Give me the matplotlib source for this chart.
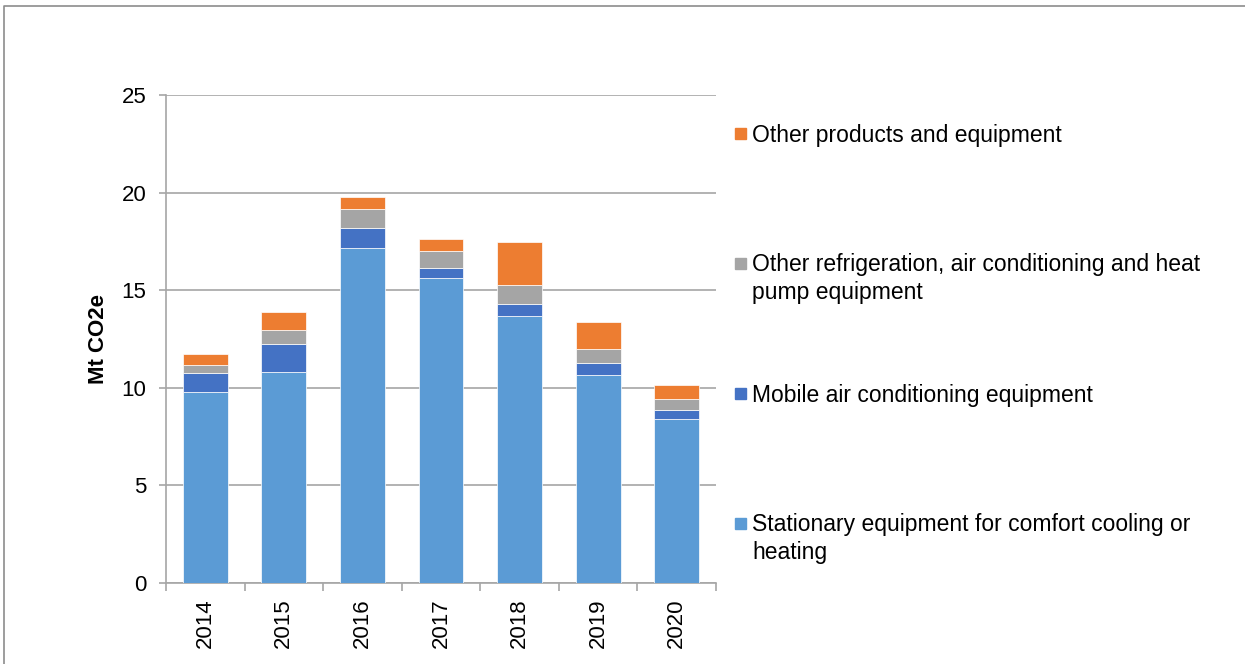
import numpy as np
import matplotlib
matplotlib.use('Agg')
from matplotlib import pyplot as plt
from matplotlib.patches import Rectangle
from matplotlib.lines import Line2D

plt.rcParams['font.family'] = ['Liberation Sans', 'DejaVu Sans']

years = ['2014', '2015', '2016', '2017', '2018', '2019', '2020']
stationary = [9.78, 10.82, 17.16, 15.60, 13.69, 10.68, 8.38]
mobile = [0.97, 1.44, 1.04, 0.52, 0.58, 0.61, 0.48]
other_rac = [0.41, 0.70, 0.98, 0.90, 0.99, 0.70, 0.58]
other_prod = [0.57, 0.92, 0.60, 0.58, 2.22, 1.38, 0.70]

labels = ['Stationary equipment for comfort cooling or\nheating',
          'Mobile air conditioning equipment',
          'Other refrigeration, air conditioning and heat\npump equipment',
          'Other products and equipment']
colors = ['#5B9BD5', '#4472C4', '#A5A5A5', '#ED7D31']

W, H = 1245, 664
fig = plt.figure(figsize=(W / 100, H / 100), dpi=100)
ax = fig.add_axes([166 / W, 1 - 583 / H, 550 / W, 488 / H])

x = np.arange(len(years))
bottom = np.zeros(len(years))
for vals, col in zip([stationary, mobile, other_rac, other_prod], colors):
    ax.bar(x, vals, width=0.57, bottom=bottom, color=col, edgecolor='white',
           linewidth=0.5, zorder=3)
    bottom += np.array(vals)

grid_col = '#A6A6A6'
ax.set_xlim(-0.5, len(years) - 0.5)
ax.set_ylim(0, 25)
ax.set_yticks([0, 5, 10, 15, 20, 25])
ax.yaxis.grid(True, color=grid_col, linewidth=1.2, zorder=0)
for s in ['top', 'right']:
    ax.spines[s].set_visible(False)
for s in ['left', 'bottom']:
    ax.spines[s].set_color(grid_col)
    ax.spines[s].set_linewidth(1.2)

ax.set_xticks(x)
ax.set_xticklabels(years, rotation=90, fontsize=16)
ax.set_xticks(np.arange(-0.5, len(years)), minor=True)
ax.tick_params(axis='x', which='major', length=0, pad=11)
ax.tick_params(axis='x', which='minor', length=6, width=1.2, color=grid_col)
ax.tick_params(axis='y', length=5, width=1.2, color=grid_col, labelsize=16, pad=9)

ax.set_ylabel('Mt CO2e', fontsize=16, fontweight='bold')
ax.yaxis.set_label_coords(-0.103, 0.5)

# legend, top entry first, marker next to the first line of text
baselines = [142, 272, 402, 532]
line_gap = 27
for lab, col, yb in zip(labels[::-1], colors[::-1], baselines):
    fig.patches.append(Rectangle((735 / W, 1 - (yb - 3) / H), 11 / W, 11 / H,
                                 transform=fig.transFigure, color=col))
    # va='baseline' refers to the last line of a multi-line text
    nextra = lab.count('\n')
    fig.text(752 / W, 1 - (yb + nextra * line_gap) / H, lab, fontsize=16.5,
             va='baseline', linespacing=1.27)

# outer frame (cropped, only top and left visible)
fig.lines.append(Line2D([4 / W, 4 / W, 1], [0, 1 - 6 / H, 1 - 6 / H],
                        transform=fig.transFigure, color='#8C8C8C', linewidth=1.2))

fig.savefig('out.png', dpi=100)
